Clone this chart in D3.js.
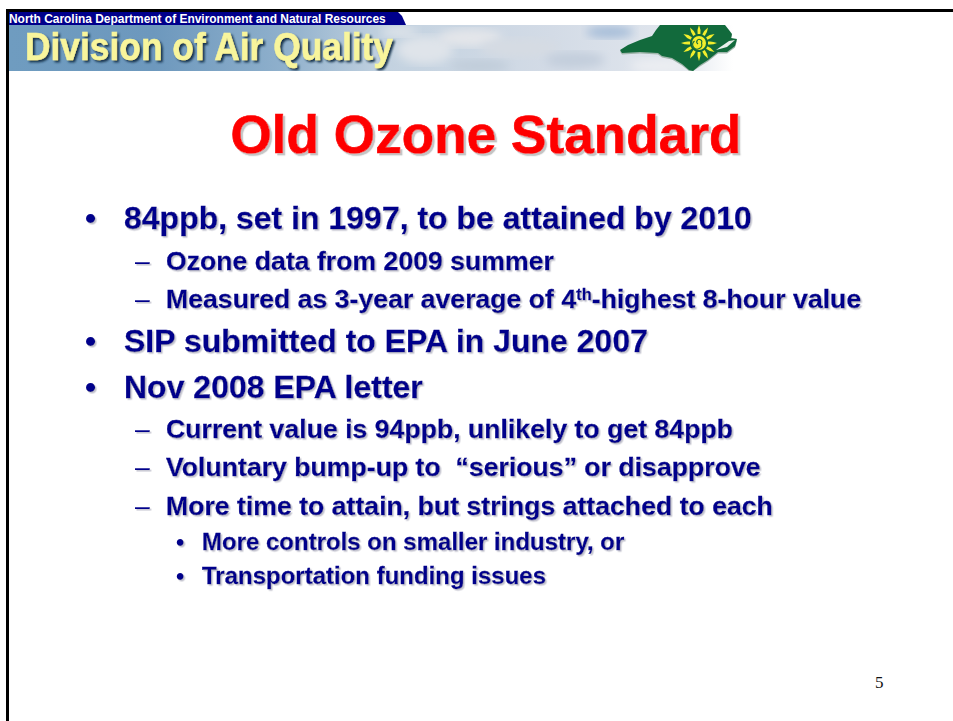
<!DOCTYPE html>
<html>
<head>
<meta charset="utf-8">
<title>Old Ozone Standard</title>
<script src="https://d3js.org/d3.v7.min.js"></script>
<style>
html, body { margin: 0; padding: 0; background: #fff; }
svg { display: block; }
text { font-family: "Liberation Sans", Arial, sans-serif; font-weight: bold; }
</style>
</head>
<body>
<svg id="slide" width="953" height="721"></svg>
<script>
// slide text
var agency = "North Carolina Department of Environment and Natural Resources";
var division = "Division of Air Quality";
var title = "Old Ozone Standard";
var pageNumber = "5";

var lineText = [
  "84ppb, set in 1997, to be attained by 2010",
  "Ozone data from 2009 summer",
  "Measured as 3-year average of 4|th|-highest 8-hour value",
  "SIP submitted to EPA in June 2007",
  "Nov 2008 EPA letter",
  "Current value is 94ppb, unlikely to get 84ppb",
  "Voluntary bump-up to  \u201cserious\u201d or disapprove",
  "More time to attain, but strings attached to each",
  "More controls on smaller industry, or",
  "Transportation funding issues"
];
var lineLevel = [1, 2, 2, 1, 1, 2, 2, 2, 3, 3];
var lineBase = [229, 269.5, 307.5, 352, 398, 437.5, 476, 514.5, 550, 584];

var levelStyle = {
  1: {x: 124, size: 32, mark: "\u2022", markX: 85, markWeight: "bold"},
  2: {x: 166, size: 26.65, mark: "\u2013", markX: 135, markWeight: "normal"},
  3: {x: 202, size: 24, mark: "\u2022", markX: 176, markWeight: "bold"}
};

var svg = d3.select("#slide");
var defs = svg.append("defs");

var sky = defs.append("linearGradient").attr("id", "sky");
sky.selectAll("stop")
  .data([[0, "#6f9cc0"], [0.2, "#6d98bd"], [0.38, "#8fb0cc"], [0.52, "#c3d2e0"], [0.75, "#d3dbe6"], [0.93, "#e2e7ee"], [1, "#ffffff"]])
  .enter().append("stop")
  .attr("offset", function(d) { return d[0]; })
  .attr("stop-color", function(d) { return d[1]; });

defs.append("filter").attr("id", "soft").append("feGaussianBlur").attr("stdDeviation", 5);

function dropShadow(id, dist, blur, colour) {
  defs.append("filter").attr("id", id)
    .attr("x", "-5%").attr("y", "-20%").attr("width", "110%").attr("height", "140%")
    .append("feDropShadow")
    .attr("dx", dist).attr("dy", dist).attr("stdDeviation", blur)
    .attr("flood-color", colour).attr("flood-opacity", 1);
}
dropShadow("titleShadow", 2.2, 0, "#c4c4c4");
dropShadow("lineShadow", 1.5, 0, "#c2c2ce");
dropShadow("bannerShadow", 2, 0.9, "#17304c");

defs.append("clipPath").attr("id", "bannerClip").append("rect")
  .attr("x", 9).attr("y", 25).attr("width", 724).attr("height", 46);

// frame
svg.append("rect").attr("x", 6).attr("y", 9).attr("width", 947).attr("height", 3).attr("fill", "#000");
svg.append("rect").attr("x", 6).attr("y", 9).attr("width", 3).attr("height", 712).attr("fill", "#000");

// agency tab
svg.append("path")
  .attr("d", d3.line()([[9, 12], [398, 12], [402, 16], [406, 25], [9, 25]]) + "Z")
  .attr("fill", "#00008b");
svg.append("text").attr("x", 9).attr("y", 22.5)
  .attr("font-size", 11.95).attr("fill", "#fff").text(agency);

// banner
var banner = svg.append("g").attr("clip-path", "url(#bannerClip)");
banner.append("rect").attr("x", 9).attr("y", 25).attr("width", 724).attr("height", 46).attr("fill", "url(#sky)");

var cloudX = [425, 470, 520, 575, 610, 660, 480, 400];
var cloudY = [50, 38, 48, 60, 32, 66, 66, 32];
var cloudW = [28, 32, 40, 30, 24, 30, 30, 18];
var cloudH = [14, 9, 10, 8, 6, 7, 6, 5];
var cloudFill = ["#dfe4ea", "#e4e6ea", "#d5dbe3", "#c3cedc", "#a4bcd8", "#eceef2", "#c0ccd9", "#dfe4ea"];
banner.selectAll("ellipse.cloud").data(cloudX).enter().append("ellipse")
  .attr("class", "cloud")
  .attr("cx", function(d) { return d; })
  .attr("cy", function(d, i) { return cloudY[i]; })
  .attr("rx", function(d, i) { return cloudW[i]; })
  .attr("ry", function(d, i) { return cloudH[i]; })
  .attr("fill", function(d, i) { return cloudFill[i]; })
  .attr("filter", "url(#soft)");

// division name
banner.append("text").attr("x", 25).attr("y", 59.5)
  .attr("font-size", 39).attr("fill", "#f8f59c")
  .attr("stroke", "#f8f59c").attr("stroke-width", 0.5)
  .attr("textLength", 368).attr("lengthAdjust", "spacingAndGlyphs")
  .attr("filter", "url(#bannerShadow)")
  .text(division);

// state outline and sun
var stateOutline = [[620, 50], [628, 45], [640, 40], [652, 36], [656, 30], [660, 25], [725, 25], [729, 30], [732, 34], [731, 38], [737, 39], [735, 46], [727, 52], [718, 52], [708, 60], [700, 65], [693, 71], [689, 70], [682, 64], [672, 58], [662, 56], [658, 53], [640, 52], [622, 53]];
var stateGroup = svg.append("g");
stateGroup.append("path").attr("d", d3.line()(stateOutline.map(function(p) { return [p[0], Math.min(p[1] + 1.5, 71)]; })) + "Z").attr("fill", "#9fb5ab");
stateGroup.append("path").attr("d", d3.line()(stateOutline) + "Z").attr("fill", "#126a3c");
svg.append("path").attr("d", "M716 50 L729 41 L735 40 L727 47 Z").attr("fill", "#e8f0ec");

var rayAngle = d3.range(0, 360, 30);
var sun = svg.append("g").attr("transform", "translate(699,43)");
sun.selectAll("path").data(rayAngle).enter().append("path")
  .attr("d", "M9 -1.4 Q13 -2.2 18 0 Q13 2.2 9 1.4 Z")
  .attr("fill", "#f2ee2c")
  .attr("transform", function(d) { return "rotate(" + d + ")"; });
sun.append("circle").attr("r", 7).attr("fill", "#f2ee2c");
sun.append("path").attr("d", "M-1 1 A2.5 2.5 0 1 1 2.5 0 A4.5 4.5 0 1 1 -4.5 -2")
  .attr("fill", "none").attr("stroke", "#126a3c").attr("stroke-width", 1.1);

// title
svg.append("text").attr("x", 486).attr("y", 153).attr("text-anchor", "middle")
  .attr("font-size", 53.2).attr("fill", "#fe0000")
  .attr("stroke", "#fe0000").attr("stroke-width", 0.7)
  .attr("filter", "url(#titleShadow)").text(title);

// bullet list
var list = svg.append("g").attr("fill", "#00008b").attr("filter", "url(#lineShadow)");
lineText.forEach(function(t, i) {
  var st = levelStyle[lineLevel[i]];
  list.append("text").attr("x", st.markX).attr("y", lineBase[i]).attr("font-size", st.size)
    .style("font-weight", st.markWeight).text(st.mark);
  var txt = list.append("text").attr("x", st.x).attr("y", lineBase[i]).attr("font-size", st.size)
    .attr("stroke", "#00008b").attr("stroke-width", 0.3);
  t.split("|").forEach(function(part, k) {
    var span = txt.append("tspan").text(part).style("white-space", "pre");
    if (k == 1) {
      span.attr("font-size", st.size * 0.62).attr("dy", -8);
    } else if (k == 2) {
      span.attr("dy", 8);
    }
  });
});

// page number
svg.append("text").attr("x", 875).attr("y", 688)
  .style("font-family", "Liberation Serif").style("font-weight", "normal")
  .attr("font-size", 17).attr("fill", "#111").text(pageNumber);
</script>
</body>
</html>
